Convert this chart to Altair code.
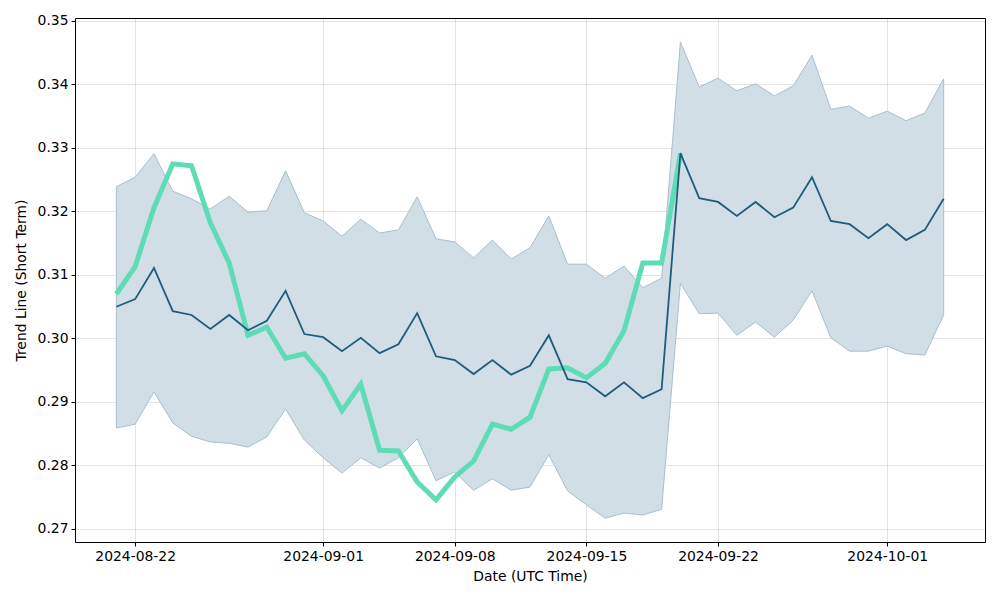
import altair as alt
import pandas as pd

start_date = "2024-08-21"
n_days = 45

mean_line = [0.3050, 0.3062, 0.3111, 0.3043, 0.3037, 0.3015, 0.3037, 0.3013, 0.3028, 0.3075,
             0.3007, 0.3002, 0.2980, 0.3001, 0.2977, 0.2991, 0.3040, 0.2972, 0.2966, 0.2944,
             0.2966, 0.2943, 0.2957, 0.3005, 0.2936, 0.2931, 0.2909, 0.2931, 0.2906, 0.2920,
             0.3292, 0.3221, 0.3215, 0.3193, 0.3215, 0.3191, 0.3206, 0.3254, 0.3185, 0.3180,
             0.3158, 0.3180, 0.3155, 0.3171, 0.3220]
upper_band = [0.3239, 0.3254, 0.3291, 0.3232, 0.3220, 0.3204, 0.3224, 0.3199, 0.3201, 0.3264,
              0.3198, 0.3185, 0.3161, 0.3188, 0.3166, 0.3171, 0.3223, 0.3157, 0.3152, 0.3127,
              0.3155, 0.3125, 0.3143, 0.3193, 0.3117, 0.3117, 0.3095, 0.3114, 0.3080, 0.3095,
              0.3467, 0.3396, 0.3410, 0.3390, 0.3401, 0.3382, 0.3398, 0.3446, 0.3361, 0.3366,
              0.3347, 0.3358, 0.3343, 0.3355, 0.3409]
lower_band = [0.2859, 0.2865, 0.2916, 0.2867, 0.2846, 0.2837, 0.2835, 0.2829, 0.2845, 0.2889,
              0.2840, 0.2812, 0.2788, 0.2812, 0.2796, 0.2812, 0.2842, 0.2776, 0.2790, 0.2761,
              0.2779, 0.2761, 0.2766, 0.2817, 0.2760, 0.2738, 0.2717, 0.2725, 0.2722, 0.2731,
              0.3087, 0.3039, 0.3040, 0.3005, 0.3026, 0.3002, 0.3029, 0.3075, 0.3001, 0.2980,
              0.2980, 0.2988, 0.2976, 0.2974, 0.3037]
price_line = [0.3070, 0.3113, 0.3206, 0.3275, 0.3272, 0.3182, 0.3119, 0.3005, 0.3018, 0.2969,
              0.2976, 0.2941, 0.2886, 0.2928, 0.2824, 0.2823, 0.2774, 0.2746, 0.2782, 0.2807,
              0.2865, 0.2857, 0.2876, 0.2952, 0.2954, 0.2938, 0.2961, 0.3012, 0.3119, 0.3119,
              0.3291]

x_tick_dates = [(2024, 8, 22), (2024, 9, 1), (2024, 9, 8), (2024, 9, 15), (2024, 9, 22), (2024, 10, 1)]
y_ticks = [0.27, 0.28, 0.29, 0.30, 0.31, 0.32, 0.33, 0.34, 0.35]

dates = pd.date_range(start_date, periods=n_days, freq="D").strftime("%Y-%m-%d").tolist()
band_df = pd.DataFrame({"date": dates, "mean": mean_line, "upper": upper_band, "lower": lower_band})
price_df = pd.DataFrame({"date": dates[:len(price_line)], "price": price_line})

FONT = "DejaVu Sans"

x_scale = alt.Scale(
    type="utc",
    domain=[alt.DateTime(year=2024, month=8, date=18, hours=19, minutes=12, utc=True),
            alt.DateTime(year=2024, month=10, date=6, hours=4, minutes=48, utc=True)],
    nice=False,
)
y_scale = alt.Scale(domain=[0.26795, 0.35047], nice=False, zero=False)

x_enc = alt.X(
    "date:T",
    scale=x_scale,
    axis=alt.Axis(
        title="Date (UTC Time)",
        values=[alt.DateTime(year=y, month=m, date=d, utc=True) for (y, m, d) in x_tick_dates],
        format="%Y-%m-%d",
        labelAngle=0,
    ),
)
y_axis = alt.Axis(title="Trend Line (Short Term)", values=y_ticks, format=".2f")

band = alt.Chart(band_df).mark_area(
    color="#d1dee6", opacity=1, stroke="#a9bfcd", strokeWidth=1
).encode(
    x=x_enc,
    y=alt.Y("upper:Q", scale=y_scale, axis=y_axis),
    y2="lower:Q",
)

price = alt.Chart(price_df).mark_line(color="#5ddcb5", strokeWidth=5).encode(
    x="date:T", y="price:Q"
)

mean = alt.Chart(band_df).mark_line(color="#1f5c7c", strokeWidth=1.8).encode(
    x="date:T", y="mean:Q"
)

chart = alt.layer(band, price, mean).properties(
    width=910,
    height=524,
    autosize=alt.AutoSizeParams(type="none"),
    padding={"left": 67, "top": 10, "right": 7, "bottom": 48},
).configure_view(
    stroke="black", strokeWidth=1
).configure_axis(
    labelFont=FONT,
    titleFont=FONT,
    labelFontSize=13.9,
    titleFontSize=13.9,
    titleFontWeight="normal",
    labelColor="black",
    titleColor="black",
    domain=False,
    tickColor="black",
    tickSize=4,
    tickWidth=1,
    gridColor="#000000",
    gridOpacity=0.11,
    gridWidth=1,
    zindex=1,
).configure_axisX(
    labelPadding=3,
    titlePadding=7,
).configure_axisY(
    labelPadding=3,
    titlePadding=9,
)

chart.save("out.html", embed_options={"renderer": "svg", "actions": False})
